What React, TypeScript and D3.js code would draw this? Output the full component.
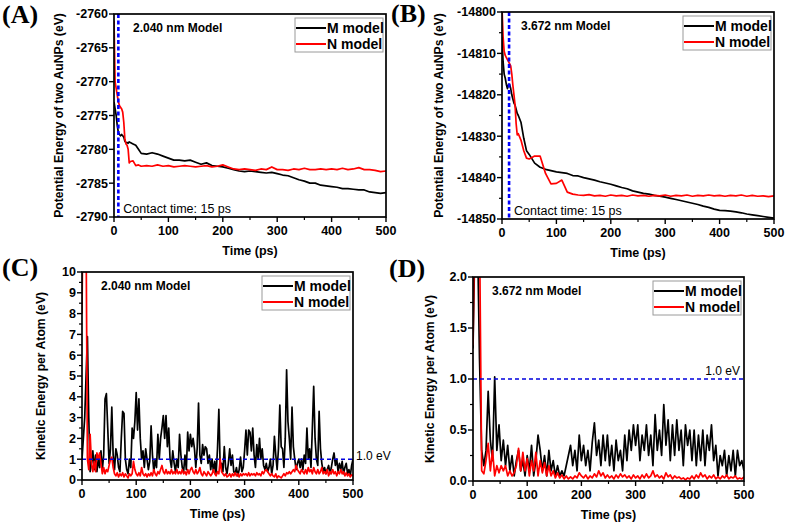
import React from 'react';
import * as d3 from 'd3';

// ---------- DATA ----------
const TIMES_AB = [0,2,4,6,8,10,12,14,16,18,20,22,24,26,28,30,35,40,45,50,60,70,80,90,100,110,120,130,140,150,160,170,180,190,200,210,220,230,240,250,260,270,280,290,300,310,320,330,340,350,360,370,380,390,400,410,420,430,440,450,460,470,480,490,500];

const A_M = [-2773,-2774,-2775,-2776.5,-2777.5,-2777.8,-2778,-2777.8,-2778,-2778.2,-2778.8,-2779,-2779,-2779.1,-2778.9,-2779,-2779.2,-2779.4,-2780,-2780.6,-2780.7,-2780.5,-2780.7,-2781,-2781.3,-2781.6,-2781.6,-2781.7,-2781.6,-2781.9,-2782.2,-2782,-2782.4,-2782.5,-2782.6,-2782.8,-2783,-2783.2,-2783.3,-2783.2,-2783.3,-2783.4,-2783.5,-2783.4,-2783.6,-2783.8,-2783.9,-2784.2,-2784.5,-2784.7,-2785,-2785,-2785.3,-2785.4,-2785.5,-2785.6,-2785.8,-2785.8,-2785.9,-2786,-2786,-2786.3,-2786.4,-2786.5,-2786.4];
const A_N = [-2761,-2770,-2771,-2772,-2773,-2773.5,-2773.8,-2774,-2774.5,-2776,-2778.5,-2779.2,-2779.4,-2780,-2782,-2781.8,-2781.7,-2782.4,-2782.3,-2782.5,-2782.4,-2782.5,-2782.3,-2782.5,-2782.4,-2782.6,-2782.5,-2782.4,-2782.5,-2782.6,-2782.5,-2782.4,-2782.6,-2782.5,-2782.3,-2782.6,-2782.9,-2783,-2782.9,-2783,-2783.1,-2782.9,-2783,-2782.6,-2783,-2783,-2783.1,-2782.9,-2783,-2782.8,-2783,-2783,-2782.9,-2783,-2782.9,-2783,-2782.8,-2783,-2782.9,-2782.7,-2783,-2783,-2783.1,-2783.3,-2783.2];

const B_M = [-14806,-14812,-14815,-14816,-14817.5,-14818.5,-14817.5,-14817.5,-14818.5,-14820,-14821,-14822,-14822.5,-14823.5,-14824.5,-14825,-14826.7,-14830.5,-14833.5,-14834.4,-14836.5,-14837.5,-14838,-14838.3,-14838.6,-14838.8,-14839,-14839.5,-14839.6,-14840,-14840.3,-14840.6,-14841,-14841.3,-14841.6,-14842,-14842.4,-14842.7,-14843.2,-14843.5,-14843.8,-14844,-14844.3,-14844.5,-14844.7,-14845,-14845.3,-14845.6,-14845.9,-14846.2,-14846.5,-14846.9,-14847.2,-14847.6,-14847.9,-14848,-14848.1,-14848.3,-14848.5,-14848.8,-14849,-14849.2,-14849.4,-14849.6,-14849.8];
const B_N = [-14799,-14806,-14809.5,-14810.5,-14811,-14811.5,-14812,-14812.5,-14813,-14815,-14817.7,-14820,-14822.5,-14827,-14829.7,-14829.4,-14831,-14833.5,-14835.3,-14835.5,-14834.8,-14834.8,-14839,-14841.5,-14841.4,-14840.6,-14843.5,-14844,-14844.2,-14844.3,-14844.1,-14844.4,-14844.3,-14844.5,-14844.2,-14844.4,-14844.3,-14844.5,-14844.2,-14844.4,-14844.3,-14844.5,-14844.3,-14844.4,-14844.2,-14844.5,-14844.3,-14844.4,-14844.2,-14844.5,-14844.3,-14844.4,-14844.2,-14844.4,-14844.3,-14844.5,-14844.3,-14844.4,-14844.2,-14844.5,-14844.3,-14844.5,-14844.4,-14844.6,-14844.4];

// C: sampled every 2.5 ps from 0 to 500
const C_M = [1.0,2.0,3.0,5.0,6.9,3.0,0.4,0.8,1.4,0.5,
1.2,0.4,1.0,0.6,1.4,0.5,1.2,3.9,4.15,2.5,
0.8,1.5,3.5,1.2,0.5,1.5,1.2,0.6,0.4,2.0,
3.3,3.2,1.0,0.5,0.3,1.0,0.6,2.5,2.0,2.8,
4.2,2.4,3.9,2.0,1.0,1.4,0.6,1.5,1.0,0.5,
0.9,2.6,1.2,0.4,1.0,0.6,2.2,1.0,2.0,2.5,
3.1,2.0,3.1,1.6,2.5,1.0,0.6,1.4,0.8,0.4,
1.0,0.6,2.2,1.2,0.6,0.4,1.2,0.5,2.3,1.4,
2.2,1.6,2.0,1.5,0.6,1.5,3.7,1.2,0.8,1.7,
1.2,1.6,1.5,0.8,1.2,0.5,1.0,0.4,0.9,0.3,
1.5,3.4,0.6,0.8,0.4,1.6,0.6,0.3,0.8,1.5,
0.7,1.2,0.4,0.3,0.6,0.2,0.5,1.1,0.4,0.6,
1.4,2.4,1.2,2.4,2.3,1.4,2.5,1.2,0.6,1.7,
1.0,2.0,1.0,1.5,0.7,0.5,0.8,0.4,0.6,1.0,
0.3,0.7,2.1,1.2,0.5,1.5,3.6,1.6,1.5,0.6,
2.0,5.3,2.8,2.0,1.0,3.5,1.6,1.0,0.5,0.8,
1.0,0.6,1.0,0.5,1.2,0.8,2.5,1.0,1.5,0.6,
2.5,4.5,2.0,1.0,0.7,3.3,1.5,0.8,0.4,0.6,
0.3,0.5,0.7,0.3,0.6,1.0,1.3,0.7,1.0,0.4,
0.8,0.5,0.9,0.3,0.6,0.8,0.3,0.5,0.2,0.7,
1.0];
const C_N = [8,15,14,12,1.0,0.5,2.2,0.8,0.4,0.9,
0.4,1.3,1.0,1.3,0.8,0.3,0.6,0.3,0.5,0.4,
0.7,1.0,1.1,0.6,0.3,0.2,0.35,0.15,0.3,0.2,
0.35,0.15,0.3,0.2,0.1,0.3,0.2,0.3,0.9,0.5,
0.3,0.2,0.35,0.2,0.6,0.3,0.2,0.3,0.15,0.3,
0.2,0.35,0.2,0.5,0.3,0.2,0.4,0.3,0.5,0.7,
0.4,0.3,0.5,0.3,0.4,0.3,0.5,0.3,0.4,0.3,
0.5,0.3,0.4,0.3,0.5,0.3,0.4,0.25,0.5,0.3,
0.5,0.6,0.4,0.3,0.5,0.3,0.4,0.6,0.3,0.2,
0.4,0.3,0.2,0.4,0.3,0.2,0.3,0.5,0.3,0.2,
0.4,0.3,1.0,0.4,0.3,0.2,0.3,0.15,0.2,0.3,
0.15,0.3,0.2,0.35,0.2,0.3,0.15,0.3,0.2,0.3,
0.25,0.3,0.2,0.35,0.2,0.3,0.25,0.3,0.2,0.35,
0.25,0.3,0.2,0.4,0.3,0.45,0.5,0.4,0.3,0.2,
0.3,0.2,0.15,0.3,0.1,0.2,0.15,0.1,0.2,0.3,
0.2,0.35,0.3,0.4,0.3,0.4,0.5,0.4,0.7,0.5,
0.4,0.3,0.5,0.4,0.3,0.5,0.3,0.6,0.4,0.5,
0.3,0.6,0.4,0.3,0.5,0.3,0.4,0.6,0.3,0.4,
0.3,0.5,0.2,0.4,0.3,0.5,0.3,0.4,0.2,0.4,
0.3,0.5,0.3,0.4,0.2,0.35,0.2,0.3,0.15,0.25,
0.2];

// D: sampled every 4 ps from 0 to 500
const D_M = [1.3,2.5,2.5,1.2,0.3,0.15,0.3,0.88,0.4,0.2,1.02,0.3,0.55,0.2,0.4,0.15,0.35,0.1,0.25,0.05,0.2,0.3,0.1,0.2,0.05,0.25,0.1,0.35,0.05,0.2,0.45,0.3,0.1,0.25,0.05,0.3,0.1,0.2,0.05,0.15,0.05,0.1,0.05,0.15,0.25,0.35,0.15,0.3,0.1,0.45,0.2,0.35,0.15,0.3,0.1,0.38,0.57,0.25,0.4,0.15,0.45,0.2,0.45,0.15,0.35,0.1,0.4,0.2,0.3,0.1,0.45,0.2,0.5,0.3,0.55,0.35,0.55,0.2,0.45,0.3,0.55,0.25,0.45,0.15,0.65,0.3,0.5,0.25,0.75,0.35,0.6,0.2,0.55,0.25,0.6,0.3,0.5,0.15,0.55,0.35,0.5,0.2,0.5,0.15,0.45,0.2,0.5,0.15,0.45,0.3,0.55,0.2,0.35,0.05,0.25,0.15,0.3,0.05,0.25,0.1,0.3,0.05,0.3,0.15,0.2,0.1];
const D_N = [1.33,3.0,3.0,2.5,0.1,0.07,0.2,0.37,0.1,0.3,0.05,0.15,0.08,0.15,0.1,0.15,0.05,0.1,0.05,0.08,0.15,0.32,0.1,0.28,0.1,0.22,0.05,0.2,0.1,0.28,0.05,0.2,0.08,0.18,0.05,0.15,0.05,0.1,0.03,0.08,0.03,0.06,0.02,0.05,0.02,0.04,0.02,0.05,0.03,0.08,0.05,0.03,0.06,0.02,0.05,0.03,0.07,0.04,0.1,0.05,0.08,0.03,0.06,0.03,0.05,0.02,0.06,0.03,0.07,0.04,0.06,0.03,0.05,0.02,0.06,0.03,0.05,0.02,0.06,0.03,0.07,0.03,0.05,0.1,0.04,0.06,0.03,0.05,0.02,0.08,0.04,0.06,0.02,0.05,0.03,0.04,0.02,0.03,0.01,0.03,0.02,0.05,0.02,0.06,0.03,0.08,0.04,0.06,0.02,0.05,0.03,0.06,0.02,0.04,0.02,0.05,0.03,0.06,0.02,0.04,0.03,0.05,0.02,0.03,0.02,0.04];

const X_TICKS = [0, 100, 200, 300, 400, 500];
const X_MINOR = [50, 150, 250, 350, 450];
const A_YTICKS = [-2790, -2785, -2780, -2775, -2770, -2765, -2760];
const B_YTICKS = [-14850, -14840, -14830, -14820, -14810, -14800];
const B_YMINOR = [-14845, -14835, -14825, -14815, -14805];
const C_YTICKS = [0, 1, 2, 3, 4, 5, 6, 7, 8, 9, 10];
const C_YMINOR = [0.5, 1.5, 2.5, 3.5, 4.5, 5.5, 6.5, 7.5, 8.5, 9.5];
const D_YTICKS = [0, 0.5, 1.0, 1.5, 2.0];
const D_YMINOR = [0.25, 0.75, 1.25, 1.75];

const SERIES_NAMES = ['M model', 'N model'];
const SERIES_COLORS = ['#000000', '#ff0000'];

const W = 787, H = 525;
const SANS = '"Liberation Sans", Arial, sans-serif';
const SERIF = '"Liberation Serif", "Times New Roman", serif';

function uniformTimes(n: number) {
  return d3.range(n).map(i => (500 * i) / (n - 1));
}

function zipSeries(times: number[], vals: number[]) {
  const n = Math.min(times.length, vals.length);
  return d3.range(n).map(i => [times[i], vals[i]] as [number, number]);
}

type PanelProps = {
  id: string;
  left: number; right: number; top: number; bottom: number;
  yDomain: [number, number];
  yTicks: number[]; yMinor: number[];
  yFmt: (v: number) => string;
  data: [number, number][][];
  label: string; labelX: number; labelY: number;
  model: string;
  yTitle: string; yTitleX: number;
  vline?: number;
  hline?: number;
  hlineLabelPos?: 'outside' | 'inside';
};

function Panel(p: PanelProps) {
  const x = d3.scaleLinear().domain([0, 500]).range([p.left, p.right]);
  const y = d3.scaleLinear().domain(p.yDomain).range([p.bottom, p.top]);
  const line = d3.line<[number, number]>().x(d => x(d[0])).y(d => y(d[1]));
  const clipId = 'clip-' + p.id;
  const bl = p.right - 91, bt = p.top + 4;
  return (
    <g>
      <defs>
        <clipPath id={clipId}>
          <rect x={p.left} y={p.top} width={p.right - p.left} height={p.bottom - p.top} />
        </clipPath>
      </defs>
      <g clipPath={`url(#${clipId})`}>
        {p.data.map((s, i) => (
          <path key={i} d={line(s) || ''} fill="none" stroke={SERIES_COLORS[i]} strokeWidth={1.7} strokeLinejoin="round" />
        ))}
        {p.vline !== undefined && (
          <line x1={x(p.vline)} x2={x(p.vline)} y1={p.top} y2={p.bottom} stroke="#0000ff" strokeWidth={2.6} strokeDasharray="4,2.5" />
        )}
        {p.hline !== undefined && (
          <line x1={p.left} x2={p.right} y1={y(p.hline)} y2={y(p.hline)} stroke="#0000dd" strokeWidth={1.5} strokeDasharray="4,3" />
        )}
      </g>
      {p.hline !== undefined && (
        p.hlineLabelPos === 'outside'
          ? <text x={p.right + 3} y={y(p.hline) + 1} fontFamily={SANS} fontSize={12}>1.0 eV</text>
          : <text x={p.right - 4} y={y(p.hline) - 4} textAnchor="end" fontFamily={SANS} fontSize={12}>1.0 eV</text>
      )}
      {p.vline !== undefined && (
        <text x={x(p.vline) + 5} y={p.bottom - 4} fontFamily={SANS} fontSize={12.5}>Contact time: 15 ps</text>
      )}
      {/* legend */}
      <rect x={bl} y={bt} width={88} height={34} fill="#fff" stroke="#9a9a9a" strokeWidth={1} />
      {SERIES_NAMES.map((nm, i) => (
        <g key={nm}>
          <line x1={bl + 1} x2={bl + 31} y1={bt + 10 + i * 16} y2={bt + 10 + i * 16} stroke={SERIES_COLORS[i]} strokeWidth={2} />
          <text x={bl + 32} y={bt + 15 + i * 16} fontFamily={SANS} fontWeight="bold" fontSize={14}>{nm}</text>
        </g>
      ))}
      <text x={p.left + 19} y={p.top + 18} fontFamily={SANS} fontWeight="bold" fontSize={12}>{p.model}</text>
      {/* frame */}
      <rect x={p.left} y={p.top} width={p.right - p.left} height={p.bottom - p.top} fill="none" stroke="#000" strokeWidth={1.7} />
      {/* x ticks */}
      {X_TICKS.map(t => (
        <g key={'x' + t}>
          <line x1={x(t)} x2={x(t)} y1={p.bottom} y2={p.bottom + 5} stroke="#000" strokeWidth={1.4} />
          <text x={x(t)} y={p.bottom + 18} textAnchor="middle" fontFamily={SANS} fontWeight="bold" fontSize={12.5}>{t}</text>
        </g>
      ))}
      {X_MINOR.map(t => (
        <line key={'xm' + t} x1={x(t)} x2={x(t)} y1={p.bottom} y2={p.bottom + 3} stroke="#000" strokeWidth={1.2} />
      ))}
      {p.yTicks.map(t => (
        <g key={'y' + t}>
          <line x1={p.left - 5} x2={p.left} y1={y(t)} y2={y(t)} stroke="#000" strokeWidth={1.4} />
          <text x={p.left - 6} y={y(t) + 4.4} textAnchor="end" fontFamily={SANS} fontWeight="bold" fontSize={12.5}>{p.yFmt(t)}</text>
        </g>
      ))}
      {p.yMinor.map(t => (
        <line key={'ym' + t} x1={p.left - 3} x2={p.left} y1={y(t)} y2={y(t)} stroke="#000" strokeWidth={1.2} />
      ))}
      <text x={(p.left + p.right) / 2} y={p.bottom + 38} textAnchor="middle" fontFamily={SANS} fontWeight="bold" fontSize={12.5}>Time (ps)</text>
      <text transform={`translate(${p.yTitleX},${(p.top + p.bottom) / 2}) rotate(-90)`} textAnchor="middle" fontFamily={SANS} fontWeight="bold" fontSize={12.2}>{p.yTitle}</text>
      <text x={p.labelX} y={p.labelY} fontFamily={SERIF} fontWeight="bold" fontSize={26}>{p.label}</text>
    </g>
  );
}

export default function App() {
  const tC = uniformTimes(C_M.length);
  const tD = uniformTimes(D_M.length);
  const intFmt = (v: number) => String(v);
  return (
    <svg width={W} height={H} viewBox={`0 0 ${W} ${H}`} style={{ position: 'absolute', left: 0, top: 0, background: '#fff' }}>
      <rect width={W} height={H} fill="#fff" />
      <Panel id="A" left={114} right={386} top={14} bottom={217} yDomain={[-2790, -2760]}
        yTicks={A_YTICKS} yMinor={[]} yFmt={intFmt}
        data={[zipSeries(TIMES_AB, A_M), zipSeries(TIMES_AB, A_N)]}
        label="(A)" labelX={2} labelY={23} model="2.040 nm Model"
        yTitle="Potential Energy of two AuNPs (eV)" yTitleX={63} vline={8} />
      <Panel id="B" left={502} right={774} top={12} bottom={219} yDomain={[-14850, -14800]}
        yTicks={B_YTICKS} yMinor={B_YMINOR} yFmt={intFmt}
        data={[zipSeries(TIMES_AB, B_M), zipSeries(TIMES_AB, B_N)]}
        label="(B)" labelX={391} labelY={22} model="3.672 nm Model"
        yTitle="Potential Energy of two AuNPs (eV)" yTitleX={443} vline={13} />
      <Panel id="C" left={82} right={353} top={272} bottom={480} yDomain={[0, 10]}
        yTicks={C_YTICKS} yMinor={C_YMINOR} yFmt={intFmt}
        data={[zipSeries(tC, C_M), zipSeries(tC, C_N)]}
        label="(C)" labelX={2} labelY={276} model="2.040 nm Model"
        yTitle="Kinetic Energy per Atom (eV)" yTitleX={45} hline={1} hlineLabelPos="outside" />
      <Panel id="D" left={473} right={744} top={277} bottom={481} yDomain={[0, 2]}
        yTicks={D_YTICKS} yMinor={D_YMINOR} yFmt={(v) => v.toFixed(1)}
        data={[zipSeries(tD, D_M), zipSeries(tD, D_N)]}
        label="(D)" labelX={389} labelY={277} model="3.672 nm Model"
        yTitle="Kinetic Energy per Atom (eV)" yTitleX={434} hline={1} hlineLabelPos="inside" />
    </svg>
  );
}
